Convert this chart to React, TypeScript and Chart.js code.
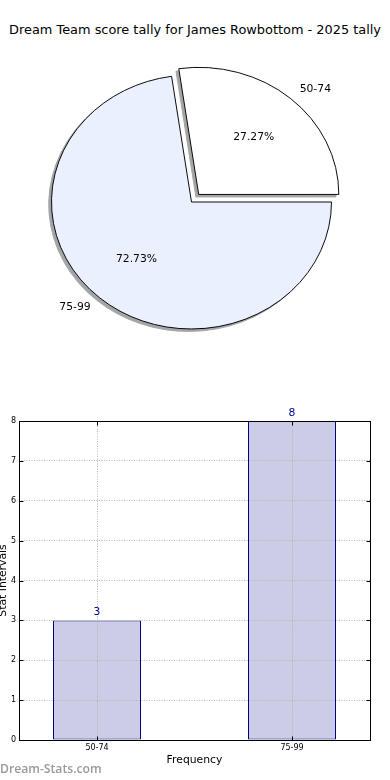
import React, { useEffect, useRef } from "react";
import { Chart, registerables } from "chart.js";

Chart.register(...registerables);
Chart.defaults.font.family = '"DejaVu Sans", sans-serif';

// ---- data ----
const TITLE = "Dream Team score tally for James Rowbottom - 2025 tally";
const categories = ["50-74", "75-99"];
const counts = [3, 8];
const pieColors = ["#ffffff", "#eaf0fd"];
const explode = [44, 0];
const yTickMin = 0;
const yTickMax = 8;
const xTitle = "Frequency";
const yTitle = "Stat Intervals";
const WATERMARK = "Dream-Stats.com";

const total = counts.reduce((a, b) => a + b, 0);
const SY = 0.907; // vertical squash of the pie (ellipse)
const FAR = 5000;

function applyEllipse(ctx: CanvasRenderingContext2D, cx: number, cy: number) {
  ctx.translate(cx, cy);
  ctx.scale(1, SY);
  ctx.translate(-cx, -cy);
}

const ellipsePlugin = {
  id: "ellipsePie",
  beforeDatasetsDraw(chart: any) {
    const ctx = chart.ctx;
    const meta = chart.getDatasetMeta(0);
    const arc0 = meta.data[0];
    // shadows: draw each arc far away, shadow brought back with offset
    meta.data.forEach((arc: any) => {
      ctx.save();
      ctx.translate(-FAR, 0);
      applyEllipse(ctx, arc0.x, arc0.y);
      ctx.shadowColor = "#a4a5a7";
      ctx.shadowOffsetX = FAR - 2.8;
      ctx.shadowOffsetY = 2.5;
      ctx.shadowBlur = 0;
      arc.draw(ctx, chart.chartArea);
      ctx.restore();
    });
    ctx.save();
    applyEllipse(ctx, arc0.x, arc0.y);
  },
  afterDatasetsDraw(chart: any) {
    const ctx = chart.ctx;
    ctx.restore();
    const meta = chart.getDatasetMeta(0);
    ctx.save();
    ctx.font = '10.8px "DejaVu Sans"';
    ctx.fillStyle = "#000";
    ctx.textBaseline = "middle";
    meta.data.forEach((arc: any, i: number) => {
      const { x, y, startAngle, endAngle, outerRadius } = arc;
      const mid = (startAngle + endAngle) / 2;
      const circ = endAngle - startAngle;
      const off = (arc.options.offset || 0) / 4;
      const shift = off * (1 + (1 - Math.sin(Math.min(Math.PI, circ))));
      const c = Math.cos(mid);
      const s = Math.sin(mid);
      const cx = x + c * shift;
      const cy = y + s * shift * SY;
      ctx.textAlign = c >= 0 ? "left" : "right";
      ctx.fillText(categories[i], cx + 1.1 * outerRadius * c, cy + 1.1 * outerRadius * s * SY);
      ctx.textAlign = "center";
      const pct = ((counts[i] / total) * 100).toFixed(2) + "%";
      ctx.fillText(pct, cx + 0.6 * outerRadius * c, cy + 0.6 * outerRadius * s * SY);
    });
    ctx.restore();
  },
};

const framePlugin = {
  id: "frame",
  afterDraw(chart: any) {
    const { ctx, chartArea: a, scales } = chart;
    ctx.save();
    ctx.strokeStyle = "#000";
    ctx.lineWidth = 1;
    const L = Math.round(a.left) + 0.5;
    const R = Math.round(a.right) + 0.5;
    const T = Math.round(a.top) + 0.5;
    const B = Math.round(a.bottom) + 0.5;
    ctx.strokeRect(L, T, R - L, B - T);
    ctx.beginPath();
    scales.y.ticks.forEach((t: any) => {
      const py = Math.round(scales.y.getPixelForValue(t.value)) + 0.5;
      ctx.moveTo(L, py);
      ctx.lineTo(L + 4, py);
      ctx.moveTo(R, py);
      ctx.lineTo(R - 4, py);
    });
    scales.x.ticks.forEach((t: any) => {
      const px = Math.round(scales.x.getPixelForValue(t.value)) + 0.5;
      ctx.moveTo(px, B);
      ctx.lineTo(px, B - 4);
      ctx.moveTo(px, T);
      ctx.lineTo(px, T + 4);
    });
    ctx.stroke();
    const meta = chart.getDatasetMeta(0);
    ctx.font = '10.8px "DejaVu Sans"';
    ctx.fillStyle = "#00008b";
    ctx.textAlign = "center";
    ctx.textBaseline = "alphabetic";
    meta.data.forEach((el: any, i: number) => {
      ctx.fillText(String(counts[i]), el.x, el.y - 5);
    });
    ctx.restore();
  },
};

export default function App() {
  const pieRef = useRef<HTMLCanvasElement | null>(null);
  const barRef = useRef<HTMLCanvasElement | null>(null);

  useEffect(() => {
    const pie = new Chart(pieRef.current as HTMLCanvasElement, {
      type: "pie",
      data: {
        labels: categories,
        datasets: [
          {
            data: counts,
            backgroundColor: pieColors,
            borderColor: "#000",
            borderWidth: 1,
            borderJoinStyle: "miter",
            offset: explode,
            hoverOffset: 0,
            clip: false,
          } as any,
        ],
      },
      options: {
        animation: false,
        responsive: false,
        events: [],
        rotation: 90 - (360 * counts[0]) / total,
        radius: 140,
        layout: { padding: { left: 0, right: 7, top: 4, bottom: 0 } },
        plugins: { legend: { display: false }, tooltip: { enabled: false } },
      } as any,
      plugins: [ellipsePlugin],
    });

    const gridOpts = { color: "#b4b4b4", lineWidth: 1, drawTicks: false, z: 1, offset: false };
    const borderOpts = { display: false, dash: [1, 1.5] };

    const bar = new Chart(barRef.current as HTMLCanvasElement, {
      type: "bar",
      data: {
        datasets: [
          {
            data: categories.map((_, i) => ({ x: i, y: counts[i] })),
            backgroundColor: "#ccccE6",
            borderColor: "#000080",
            borderWidth: 1,
            borderSkipped: false,
            barPercentage: 0.4513,
            categoryPercentage: 1,
          } as any,
        ],
      },
      options: {
        animation: false,
        responsive: false,
        events: [],
        layout: { padding: { left: 0, right: 20, top: 31, bottom: 0 } },
        plugins: { legend: { display: false }, tooltip: { enabled: false } },
        scales: {
          x: {
            type: "linear",
            offset: false,
            min: -0.4,
            max: categories.length - 0.6,
            afterBuildTicks: (s: any) => {
              s.ticks = categories.map((_, i) => ({ value: i }));
            },
            afterFit: (s: any) => {
              s.height = 40;
            },
            ticks: {
              callback: (v: any) => categories[v as number] ?? "",
              font: { size: 8 },
              color: "#000",
              padding: 3,
              autoSkip: false,
              maxRotation: 0,
            },
            grid: gridOpts,
            border: borderOpts,
            title: {
              display: true,
              text: xTitle,
              font: { size: 10.8 },
              color: "#000",
              padding: { top: 0, bottom: 13.7 },
            },
          },
          y: {
            min: yTickMin,
            max: yTickMax,
            afterFit: (s: any) => {
              s.width = 23;
            },
            ticks: { stepSize: 1, font: { size: 8 }, color: "#000", padding: 3 },
            grid: gridOpts,
            border: borderOpts,
            title: {
              display: true,
              text: yTitle,
              font: { size: 10.8 },
              color: "#000",
              padding: { top: 1, bottom: 0 },
            },
          },
        },
      } as any,
      plugins: [framePlugin],
    });

    return () => {
      pie.destroy();
      bar.destroy();
    };
  }, []);

  return (
    <div style={{ position: "absolute", left: 0, top: 0, width: 390, height: 780, overflow: "hidden", background: "#fff" }}>
      <div
        style={{
          position: "absolute",
          top: 22,
          left: 0,
          width: 390,
          textAlign: "center",
          fontFamily: '"DejaVu Sans", sans-serif',
          fontSize: 12.9,
          lineHeight: "15px",
          color: "#000",
          whiteSpace: "nowrap",
        }}
      >
        {TITLE}
      </div>
      <canvas
        ref={pieRef}
        width={390}
        height={400}
        style={{ position: "absolute", left: 0, top: 0, width: 390, height: 400 }}
      />
      <canvas
        ref={barRef}
        width={394}
        height={390}
        style={{ position: "absolute", left: -4, top: 390, width: 394, height: 390 }}
      />
      <div
        style={{
          position: "absolute",
          left: 0,
          top: 761,
          fontFamily: '"Open Sans", sans-serif',
          fontWeight: 600,
          fontSize: 12.2,
          lineHeight: "16px",
          color: "#9a9a9a",
          whiteSpace: "nowrap",
        }}
      >
        {WATERMARK}
      </div>
    </div>
  );
}
